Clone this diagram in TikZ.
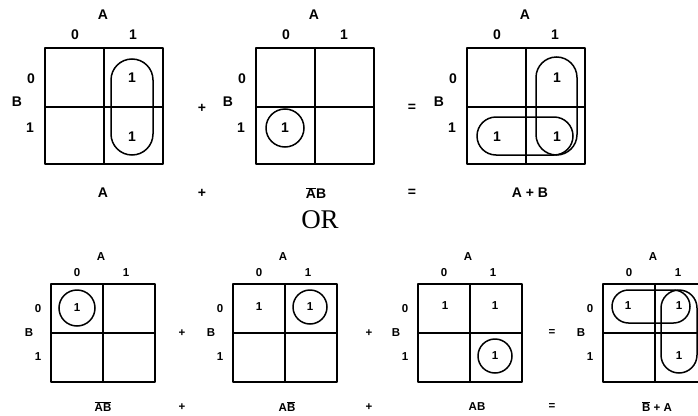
\documentclass[tikz,border=0pt]{standalone}
\usepackage{fontspec}
\setmainfont{Liberation Sans}
\newfontfamily\orfont{Liberation Serif}
\usepackage{tikz}
\usetikzlibrary{positioning}

\newcommand{\nbar}[1]{$\overline{\mbox{#1}}$}

\begin{document}
\begin{tikzpicture}[x=1pt, y=-1pt,
    kbox/.style={line width=1.9pt, line join=round},
    loop/.style={line width=1.5pt, rounded corners=#1},
    big/.style={font=\fontsize{14}{16}\selectfont\bfseries, inner sep=0pt},
    small/.style={font=\fontsize{11.5}{13}\selectfont\bfseries, inner sep=0pt}]
  \useasboundingbox (0,0) rectangle (698,415);
  \clip (0,0) rectangle (698,415);

  % Top row of maps
  \foreach \x/\n in {45/1, 256/2, 467/3} {
    \draw[kbox] (\x,48) rectangle ++(118,116);
    \draw[kbox] (\x+59,48) -- ++(0,116);
    \draw[kbox] (\x,107) -- ++(118,0);
    \node[big] (ta\n) at (\x+58,15) {A};
    \node[big] (tc0\n) at (\x+30,35) {0};
    \node[big] (tc1\n) at (\x+88,35) {1};
    \node[big] (tr0\n) at (\x-14,79) {0};
    \node[big] (tb\n) at (\x-28,102) {B};
    \node[big] (tr1\n) at (\x-15,128) {1};
  }

  % Top entries and loops
  \node[big] (p1a) at (132,78) {1};
  \node[big] (p1b) at (132,137) {1};
  \draw[loop=21pt] (111,59) rectangle (153,155);
  \node[big] (p2a) at (285,128) {1};
  \draw[line width=1.5pt] (p2a) circle (19pt);
  \node[big] (p3a) at (557,78) {1};
  \node[big] (p3b) at (497,137) {1};
  \node[big] (p3c) at (557,137) {1};
  \draw[loop=20.5pt] (536,57) rectangle (577,155);
  \draw[loop=19pt] (477,117) rectangle (573,155);

  % Top operators and results
  \node[big] (op1) at (202,108) {+};
  \node[big] (op2) at (412,108) {=};
  \node[big] (res1) at (103,193) {A};
  \node[big] (res2) at (202,193) {+};
  \node[big] (res3) at (316,193) {\nbar{A}B};
  \node[big] (res4) at (412,193) {=};
  \node[big] (res5) at (530,193) {A + B};

  \node[font=\orfont\fontsize{27}{30}\selectfont, inner sep=0pt] (or) at (320,220) {OR};

  % Bottom row of maps
  \foreach \x/\n in {51/1, 233/2, 418/3, 603/4} {
    \draw[kbox] (\x,284) rectangle ++(104,98);
    \draw[kbox] (\x+52,284) -- ++(0,98);
    \draw[kbox] (\x,333) -- ++(104,0);
    \node[small] (ba\n) at (\x+50,257) {A};
    \node[small] (bc0\n) at (\x+26,273) {0};
    \node[small] (bc1\n) at (\x+75,273) {1};
    \node[small] (br0\n) at (\x-13,309) {0};
    \node[small] (bb\n) at (\x-22,333) {B};
    \node[small] (br1\n) at (\x-13,357) {1};
  }

  % Bottom entries and loops
  \node[small] (q1a) at (77,308) {1};
  \draw[line width=1.5pt] (q1a) circle (18pt);
  \node[small] (q2a) at (259,307) {1};
  \node[small] (q2b) at (310,307) {1};
  \draw[line width=1.5pt] (q2b) circle (17pt);
  \node[small] (q3a) at (445,306) {1};
  \node[small] (q3b) at (495,306) {1};
  \node[small] (q3c) at (495,356) {1};
  \draw[line width=1.5pt] (q3c) circle (17pt);
  \node[small] (q4a) at (628,306) {1};
  \node[small] (q4b) at (679,306) {1};
  \node[small] (q4c) at (679,356) {1};
  \draw[loop=16.5pt] (612,290) rectangle (690,323);
  \draw[loop=18pt] (661,290) rectangle (697,373);

  % Bottom operators and results
  \node[small] (bop1) at (182,333) {+};
  \node[small] (bop2) at (369,333) {+};
  \node[small] (bop3) at (552,333) {=};
  \node[small] (bres1) at (103,407) {\nbar{A}\nbar{B}};
  \node[small] (bres2) at (182,407) {+};
  \node[small] (bres3) at (287,407) {A\nbar{B}};
  \node[small] (bres4) at (369,407) {+};
  \node[small] (bres5) at (477,407) {AB};
  \node[small] (bres6) at (552,407) {=};
  \node[small] (bres7) at (657,407) {\nbar{B} + A};
\end{tikzpicture}
\end{document}
